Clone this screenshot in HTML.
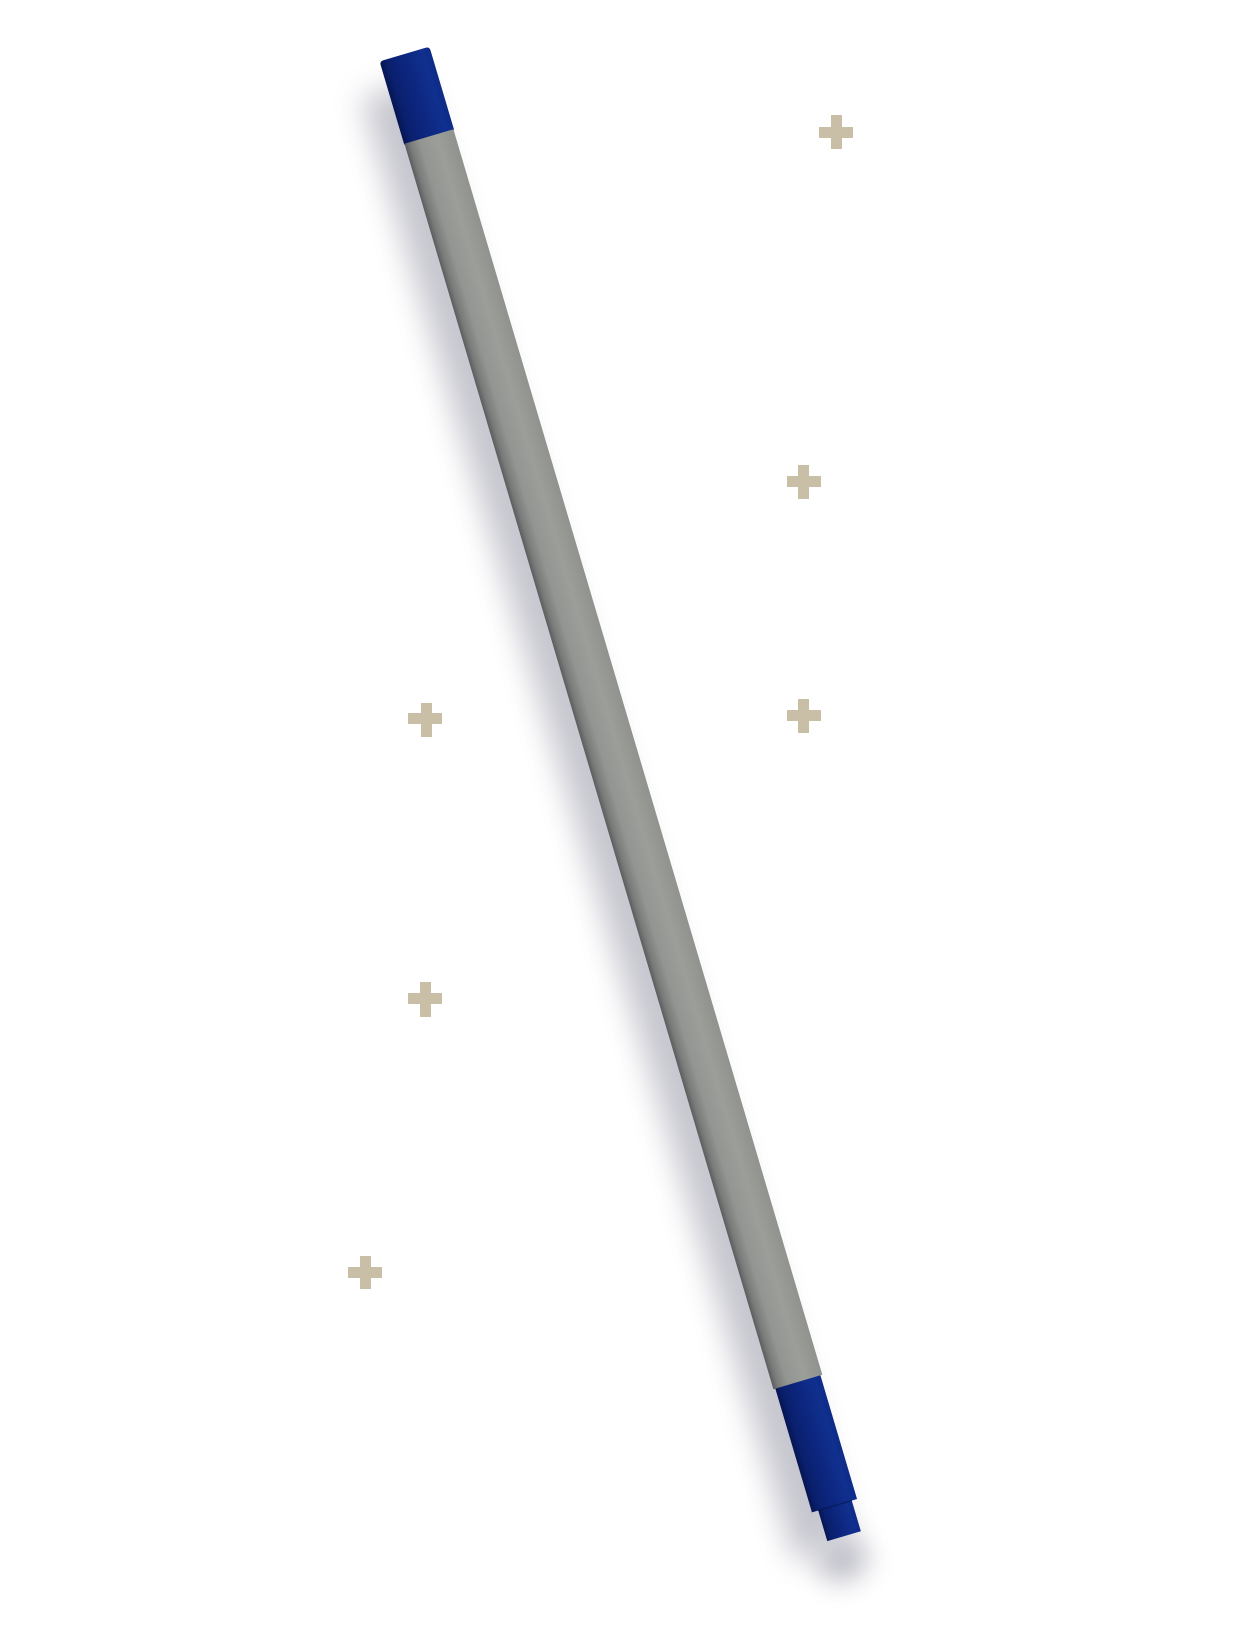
<!DOCTYPE html>
<html>
<head>
<meta charset="utf-8">
<style>
  html, body { margin: 0; padding: 0; background: #ffffff; }
  body { width: 1242px; height: 1633px; overflow: hidden; position: relative; font-family: "Liberation Sans", sans-serif; }
  svg { position: absolute; left: 0; top: 0; }
</style>
</head>
<body>
<svg width="1242" height="1633" viewBox="0 0 1242 1633" xmlns="http://www.w3.org/2000/svg">
  <defs>
    <filter id="blur" x="-50%" y="-10%" width="200%" height="120%">
      <feGaussianBlur stdDeviation="15"/>
    </filter>
    <filter id="blur2" x="-100%" y="-100%" width="300%" height="300%">
      <feGaussianBlur stdDeviation="13"/>
    </filter>
    <linearGradient id="gray" x1="0" y1="0" x2="1" y2="0">
      <stop offset="0" stop-color="#5a5d5e"/>
      <stop offset="0.1" stop-color="#777a78"/>
      <stop offset="0.3" stop-color="#939592"/>
      <stop offset="0.65" stop-color="#9c9e9a"/>
      <stop offset="1" stop-color="#90928e"/>
    </linearGradient>
    <linearGradient id="blue" x1="0" y1="0" x2="1" y2="0">
      <stop offset="0" stop-color="#061452"/>
      <stop offset="0.15" stop-color="#0a206e"/>
      <stop offset="0.5" stop-color="#0d2780"/>
      <stop offset="0.85" stop-color="#10308f"/>
      <stop offset="1" stop-color="#0d2a86"/>
    </linearGradient>
  </defs>

  <!-- plus signs -->
  <g fill="#c9bfa7">
    <rect x="819" y="127" width="34" height="11"/><rect x="831" y="115" width="11" height="34"/>
    <rect x="787" y="476" width="34" height="11"/><rect x="798" y="465" width="11" height="34"/>
    <rect x="408" y="713" width="34" height="11"/><rect x="421" y="703" width="11" height="34"/>
    <rect x="787" y="710" width="34" height="11"/><rect x="798" y="699" width="11" height="34"/>
    <rect x="408" y="993" width="34" height="11"/><rect x="420" y="982" width="11" height="35"/>
    <rect x="348" y="1267" width="34" height="11"/><rect x="360" y="1256" width="11" height="33"/>
  </g>

  <g transform="translate(404.5,54) rotate(-16.5)">
    <!-- shadow -->
    <g opacity="0.42">
      <rect x="-54" y="30" width="60" height="1525" fill="#78788c" filter="url(#blur)"/>
      <ellipse cx="-8" cy="1568" rx="26" ry="22" fill="#6a6a82" filter="url(#blur2)"/>
    </g>
    <!-- top cap -->
    <path d="M -26 4 Q -26 0 -22 0 L 22 0 Q 26 0 26 4 L 26 87 L -26 87 Z" fill="url(#blue)"/>
    <!-- gray body -->
    <rect x="-25.5" y="86" width="51" height="1299" fill="url(#gray)"/>
    <!-- bottom blue section -->
    <rect x="-23.5" y="1385" width="47" height="129" fill="url(#blue)"/>
    <!-- tip -->
    <rect x="-17" y="1513" width="35" height="33" fill="url(#blue)"/>
    <line x1="-17" y1="1514" x2="18" y2="1514" stroke="#06164f" stroke-width="1.5" opacity="0.6"/>
  </g>
</svg>
</body>
</html>
